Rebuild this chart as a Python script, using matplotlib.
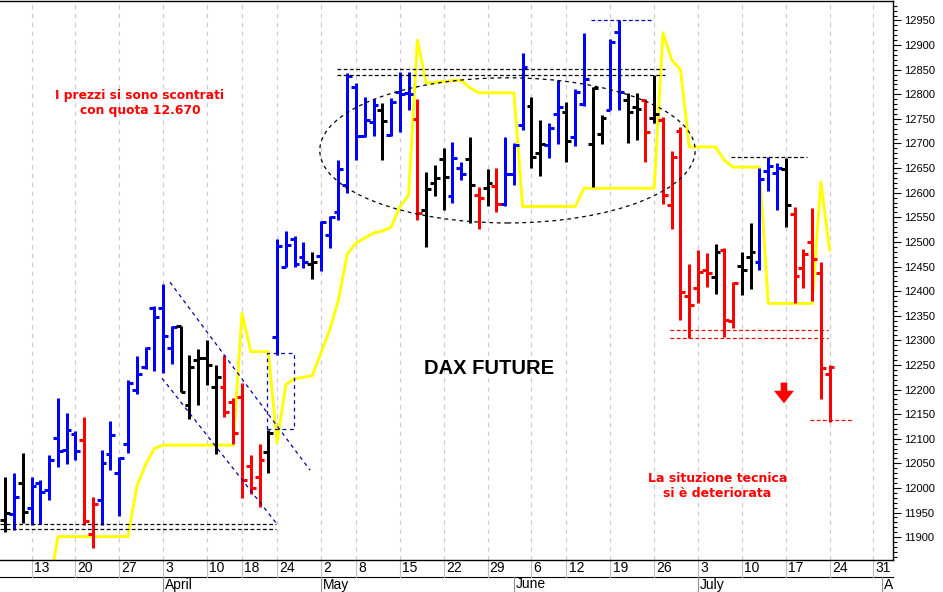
import matplotlib
matplotlib.use("Agg")
import matplotlib.pyplot as plt
from matplotlib.patches import Ellipse, Rectangle
from matplotlib.transforms import blended_transform_factory, Bbox, TransformedBbox

# x = trading-day index, 0 = Mon 13 March 2017 (holidays skipped)
day_idx = list(range(-3, 92))

opens = [11935, 11947, 12009, 11959, 12011, 11995, 12101, 12077, 12110, 12097,
         11906, 11975, 12069, 12030, 12090, 12198, 12245, 12365, 12365, 12284,
         12329, 12168, 12260, 12265, 12205, 12205, 12175, 12185, 12045, 12022,
         12072, 12307, 12450, 12505, 12470, 12455, 12471, 12515, 12561, 12616,
         12814, 12715, 12744, 12769, 12717, 12805, 12803, 12749, 12565, 12620,
         12668, 12593, 12650, 12668, 12595, 12610, 12614, 12577, 12639, 12738,
         12776, 12680, 12697, 12760, 12763, 12714, 12780, 12699, 12719, 12769,
         12927, 12788, 12775, 12788, 12751, 12748, 12575, 12726, 12390, 12406,
         12442, 12428, 12484, 12340, 12451, 12470, 12460, 12645, 12640, 12648,
         12557, 12446, 12500, 12437, 12231]
highs = [12023, 12030, 12070, 12022, 12016, 12067, 12182, 12153, 12116, 12145,
         11982, 12078, 12135, 12063, 12219, 12268, 12286, 12370, 12414, 12329,
         12329, 12270, 12282, 12301, 12250, 12270, 12182, 12213, 12067, 12089,
         12118, 12505, 12523, 12512, 12500, 12480, 12543, 12553, 12666, 12843,
         12822, 12794, 12790, 12782, 12792, 12846, 12845, 12790, 12643, 12656,
         12690, 12704, 12663, 12713, 12612, 12648, 12650, 12714, 12700, 12883,
         12794, 12748, 12742, 12829, 12785, 12810, 12924, 12815, 12758, 12912,
         12950, 12802, 12802, 12790, 12839, 12753, 12685, 12733, 12455, 12484,
         12478, 12496, 12487, 12419, 12480, 12538, 12650, 12673, 12661, 12670,
         12570, 12485, 12568, 12460, 12250]
lows = [11911, 11914, 11929, 11925, 11927, 11975, 12042, 12049, 12057, 11925,
        11877, 11924, 12036, 11942, 12070, 12191, 12241, 12238, 12233, 12252,
        12194, 12141, 12168, 12209, 12069, 12145, 12089, 11979, 11988, 11961,
        12030, 12270, 12450, 12450, 12446, 12424, 12440, 12487, 12545, 12599,
        12666, 12714, 12715, 12666, 12715, 12724, 12768, 12545, 12490, 12593,
        12565, 12580, 12626, 12539, 12526, 12573, 12561, 12573, 12616, 12727,
        12650, 12633, 12670, 12699, 12663, 12694, 12776, 12612, 12699, 12768,
        12769, 12700, 12707, 12663, 12741, 12577, 12526, 12341, 12304, 12376,
        12408, 12394, 12306, 12326, 12392, 12404, 12443, 12604, 12565, 12530,
        12376, 12406, 12380, 12180, 12133]
closes = [11950, 11982, 11952, 12004, 11992, 12057, 12076, 12118, 12076, 11933,
          11967, 12050, 12108, 12061, 12213, 12232, 12284, 12348, 12309, 12328,
          12194, 12245, 12265, 12250, 12226, 12155, 12112, 12016, 11999, 12057,
          12112, 12492, 12494, 12455, 12460, 12460, 12540, 12550, 12648, 12837,
          12715, 12748, 12778, 12746, 12785, 12800, 12800, 12559, 12607, 12630,
          12631, 12670, 12638, 12616, 12590, 12620, 12578, 12638, 12697, 12855,
          12673, 12699, 12731, 12775, 12706, 12805, 12832, 12812, 12751, 12907,
          12805, 12763, 12770, 12724, 12760, 12595, 12672, 12399, 12372, 12439,
          12436, 12480, 12341, 12417, 12443, 12480, 12627, 12655, 12650, 12575,
          12430, 12475, 12465, 12243, 12246]
bar_trend = ["k", "b", "k", "b", "b", "b", "b", "b", "b", "r",
             "r", "b", "b", "b", "b", "b", "b", "b", "b", "b",
             "k", "k", "k", "k", "k", "r", "r", "r", "r", "r",
             "k", "b", "b", "b", "b", "k", "b", "b", "b", "b",
             "b", "b", "b", "k", "b", "b", "b", "r", "k", "k",
             "k", "b", "b", "k", "r", "k", "r", "b", "b", "b",
             "k", "k", "b", "b", "k", "b", "b", "k", "k", "b",
             "b", "k", "k", "r", "k", "r", "r", "r", "r", "r",
             "r", "k", "r", "r", "k", "k", "b", "b", "b", "k",
             "r", "r", "r", "r", "r"]

# yellow stop line, from day index 2 to 91
stop_idx = list(range(2, 92))
stop_vals = [11790, 11901, 11901, 11901, 11901, 11901, 11901, 11901, 11901, 11901,
             12002, 12047, 12080, 12087, 12087, 12087, 12087, 12087, 12087, 12087,
             12087, 12087, 12355, 12277, 12277, 12277, 12092, 12210, 12222, 12225,
             12228, 12274, 12321, 12382, 12475, 12498, 12508, 12518, 12522, 12530,
             12571, 12595, 12910, 12823, 12824, 12826, 12828, 12828, 12813, 12803,
             12803, 12803, 12803, 12803, 12572, 12572, 12572, 12572, 12572, 12572,
             12572, 12609, 12609, 12609, 12609, 12609, 12609, 12609, 12609, 12609,
             12925, 12870, 12850, 12693, 12693, 12693, 12693, 12666, 12652, 12652,
             12652, 12652, 12375, 12375, 12375, 12375, 12375, 12375, 12622, 12484]

week_idx = [0, 5, 10, 15, 20, 24, 28, 33, 37, 42, 47, 52, 57, 61, 66, 71, 76, 81, 86, 91, 96]
week_labels = ["13", "20", "27", "3", "10", "18", "24", "2", "8", "15", "22",
               "29", "6", "12", "19", "26", "3", "10", "17", "24", "31"]
month_idx = [15, 33, 55, 76, 97]
month_labels = ["April", "May", "June", "July", "August"]

COLORS = {"b": "#0000ff", "r": "#ff0000", "k": "#000000"}
DATE_FONT = ["Liberation Sans Narrow", "DejaVu Sans Condensed", "Liberation Sans"]

fig = plt.figure(figsize=(9.43, 5.92), dpi=100)
ax = fig.add_axes([0, 32 / 592, 893 / 943, 559 / 592])
ax.set_xlim(-3.592, 98.23)
ax.set_ylim(11853.5, 12989.6)

# weekly grid
for w in week_idx:
    ax.axvline(w, color="#c8c8e6", lw=0.8, ls=(0, (4, 4)), zorder=0)

# yellow line
ax.plot(stop_idx, stop_vals, color="#ffff00", lw=2.1, zorder=2)

# OHLC bars
tick = 0.55
for code, col in COLORS.items():
    sel = [k for k, c in enumerate(bar_trend) if c == code]
    xs = [day_idx[k] for k in sel]
    ax.vlines(xs, [lows[k] for k in sel], [highs[k] for k in sel], color=col, lw=2.16, zorder=3)
    ax.hlines([opens[k] for k in sel], [x - tick for x in xs], xs, color=col, lw=2.16, zorder=3)
    ax.hlines([closes[k] for k in sel], xs, [x + tick for x in xs], color=col, lw=2.16, zorder=3)

# annotations
dash_k = dict(color="black", lw=0.9, ls=(0, (3, 2)), zorder=4)
ax.hlines([11927, 11916], -3.6, 27.9, **dash_k)
ax.hlines([12851, 12839], 34.8, 72.2, **dash_k)
ax.hlines(12672, 79.8, 88.4, **dash_k)
ax.hlines(12950, 63.8, 70.9, color="#0000cc", lw=0.9, ls=(0, (3, 2)), zorder=4)
ax.hlines([12320, 12304], 72.8, 90.8, color="red", lw=0.9, ls=(0, (3, 2)), zorder=4)
ax.hlines(12138, 88.8, 93.7, color="red", lw=0.9, ls=(0, (3, 2)), zorder=4)

ax.add_patch(Ellipse((54.27, 12686), 42.8, 295, fill=False, ec="black",
                     lw=0.9, ls=(0, (3, 3)), zorder=4))
ax.plot([15.79, 31.76], [12418, 12036], color="#0000aa", lw=0.9, ls=(0, (3, 3)), zorder=4)
ax.plot([14.88, 27.88], [12223, 11929], color="#0000aa", lw=0.9, ls=(0, (3, 3)), zorder=4)
ax.add_patch(Rectangle((26.9, 12119), 3.0, 155, fill=False, ec="#0000aa",
                       lw=0.9, ls=(0, (3, 3)), zorder=4))

ax.text(12.37, 12782, "I prezzi si sono scontrati\ncon quota 12.670", color="red",
        fontsize=8.8, fontweight="bold", ha="center", va="center", linespacing=1.15,
        family="DejaVu Sans")
ax.text(52.17, 12242, "DAX FUTURE", color="black", fontsize=14.5, fontweight="bold",
        ha="center", va="center", family="Liberation Sans")
ax.text(78.2, 12004, "La situzione tecnica\nsi è deteriorata", color="red",
        fontsize=9, fontweight="bold", ha="center", va="center", linespacing=1.15,
        family="DejaVu Sans")
ax.annotate("", xy=(85.8, 12172), xytext=(85.8, 12214),
            arrowprops=dict(arrowstyle="simple,head_length=0.75,head_width=1.2,tail_width=0.4",
                            color="red", lw=0, mutation_scale=12, shrinkA=0, shrinkB=0))

# right price axis
ax.yaxis.tick_right()
ax.set_yticks(list(range(11900, 12951, 50)))
ax.set_yticks(list(range(11860, 12990, 10)), minor=True)
ax.tick_params(axis="y", which="major", length=6, width=0.8, pad=2, labelsize=8)
ax.tick_params(axis="y", which="minor", length=3, width=0.8)
for lab in ax.get_yticklabels():
    lab.set_family("Liberation Sans")
ax.tick_params(axis="x", bottom=False, labelbottom=False)
ax.spines["left"].set_visible(False)
for s in ["top", "right", "bottom"]:
    ax.spines[s].set_linewidth(1.0)

# date rows below the plot
tr = blended_transform_factory(ax.transData, ax.transAxes)
row1 = -17 / 559
row2 = -32 / 559
clip = TransformedBbox(Bbox([[0, 0], [893 / 943, 1]]), fig.transFigure)
ax.plot([-3.592, 98.23], [row1, row1], transform=tr, color="black", lw=0.8, clip_on=False)
for w, lab in zip(week_idx, week_labels):
    ax.plot([w, w], [0, row1], transform=tr, color="#c0c0c0", lw=0.8, clip_on=False)
    t = ax.text(w + 0.25, row1 / 2, lab, transform=tr, fontsize=10, ha="left", va="center",
                family=DATE_FONT, clip_on=False)
    t.set_clip_box(clip)
for m, lab in zip(month_idx, month_labels):
    ax.plot([m, m], [row1, row2], transform=tr, color="#909090", lw=0.8, clip_on=False)
    t = ax.text(m + 0.25, (row1 + row2) / 2, lab, transform=tr, fontsize=10, ha="left",
                va="center", family=DATE_FONT, clip_on=True)
    t.set_clip_box(clip)

fig.savefig("out.png", dpi=100)
